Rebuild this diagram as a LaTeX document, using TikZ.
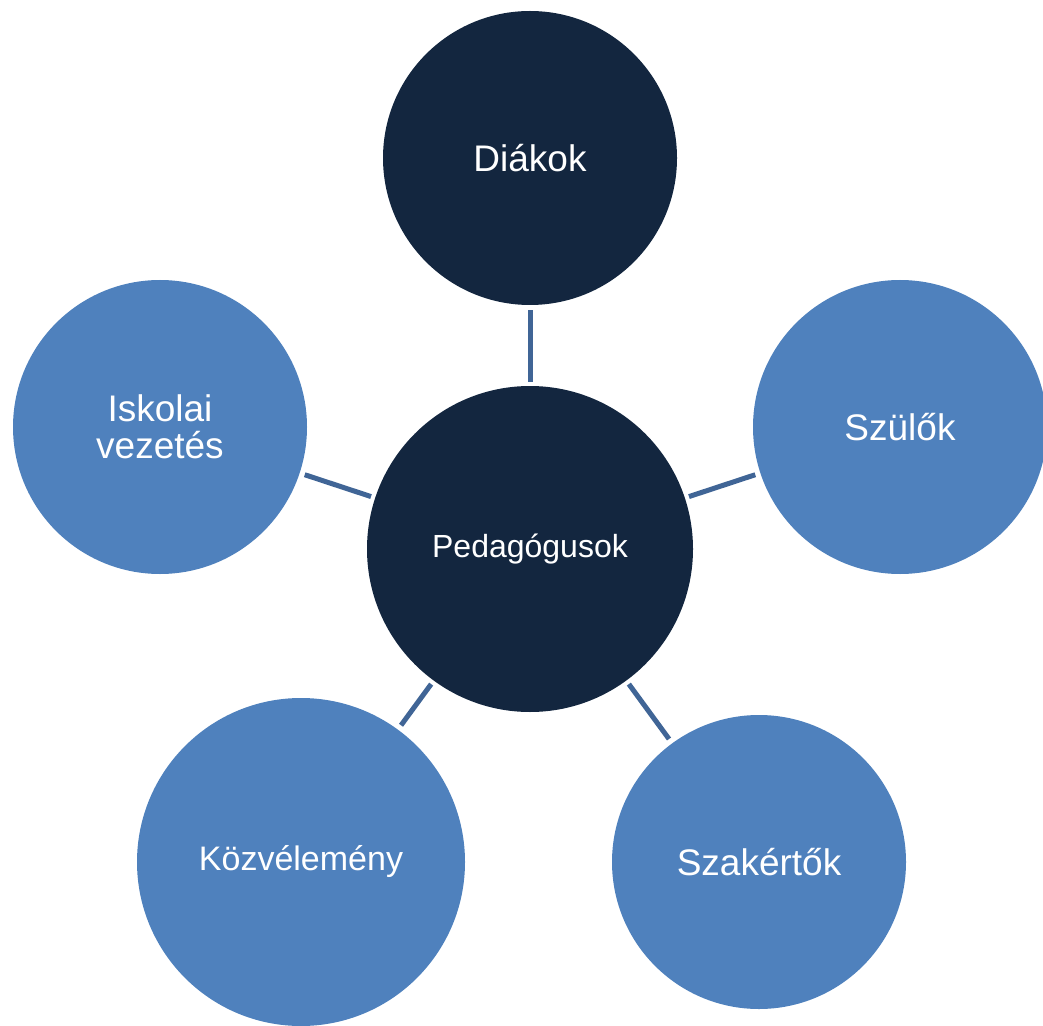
\documentclass[tikz,border=0pt]{standalone}
\usepackage{fontspec}
\setmainfont{Liberation Sans}
\definecolor{navy}{RGB}{19,38,63}
\definecolor{lightblue}{RGB}{79,129,189}
\definecolor{linkblue}{RGB}{64,101,150}
\tikzset{
    hub/.style={circle, fill=navy, text=white, minimum size=163pt, inner sep=0pt, align=center},
    dark/.style={circle, fill=navy, text=white, minimum size=147pt, inner sep=0pt, align=center},
    light/.style={circle, fill=lightblue, text=white, minimum size=147pt, inner sep=0pt, align=center},
    link/.style={draw=linkblue, line width=2.5pt, shorten <=2pt, shorten >=2.5pt}
}
\begin{document}
\begin{tikzpicture}[x=0.5pt, y=-0.5pt]
        \useasboundingbox (0,0) rectangle (1043,1026);

        \node[hub, font=\fontsize{16}{16}\selectfont] (ped) at (530, 549) {Pedagógusok};
        \node[dark, font=\fontsize{18.5}{18.5}\selectfont] (diak) at (530, 158) {Diákok};
        \node[light, font=\fontsize{18.5}{18.5}\selectfont] (szulo) at (900, 427) {Szülők};
        \node[light, font=\fontsize{18.5}{18.5}\selectfont] (vezet) at (160, 427) {Iskolai\\vezetés};
        \node[light, minimum size=164pt, font=\fontsize{17}{17}\selectfont] (kozv) at (301, 862) {Közvélemény};
        \node[light, font=\fontsize{18.5}{18.5}\selectfont] (szak) at (759, 862) {Szakértők};

        \draw[link] (ped) -- (diak);
        \draw[link] (ped) -- (szulo);
        \draw[link] (ped) -- (vezet);
        \draw[link] (ped) -- (kozv);
        \draw[link] (ped) -- (szak);

    \end{tikzpicture}
\end{document}
